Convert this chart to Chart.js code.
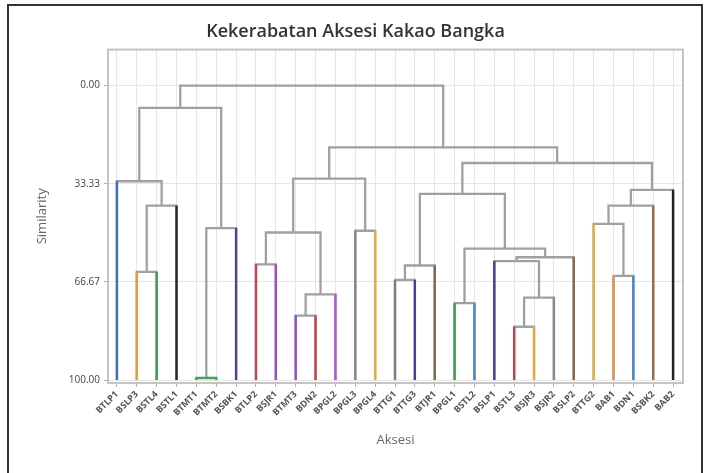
<!DOCTYPE html>
<html>
<head>
<meta charset="utf-8">
<script src="https://cdn.jsdelivr.net/npm/chart.js@4.4.1/dist/chart.umd.min.js"></script>
<style>
  html, body { margin: 0; padding: 0; background: #fff; }
  #wrap { position: relative; width: 705px; height: 473px; }
  #frame { position: absolute; left: 7px; top: 4px; width: 692px; height: 480px;
           border-left: 2px solid #333; border-top: 2px solid #333; border-right: 2px solid #333; }
</style>
</head>
<body>
<div id="wrap">
  <canvas id="chart"></canvas>
  <div id="frame"></div>
</div>
<script>
// leaves, left to right
const leafLabels = ['BTLP1', 'BSLP3', 'BSTL4', 'BSTL1', 'BTMT1', 'BTMT2', 'BSBK1', 'BTLP2', 'BSJR1', 'BTMT3',
    'BDN2', 'BPGL2', 'BPGL3', 'BPGL4', 'BTTG1', 'BTTG3', 'BTJR1', 'BPGL1', 'BSTL2', 'BSLP1',
    'BSTL3', 'BSJR3', 'BSJR2', 'BSLP2', 'BTTG2', 'BAB1', 'BDN1', 'BSBK2', 'BAB2'];
const leafColors = ['#3d72b4', '#e49b3c', '#3f9f55', '#2a2a2a', '#4aa05a', '#4aa05a', '#4545a8', '#c2434c', '#9a4fc2', '#9a4fc2',
    '#c2434c', '#b057d4', '#8a8a8a', '#e3ad3e', '#808080', '#43439e', '#7d6a58', '#3f9f55', '#4a86cc', '#43439e',
    '#c2434c', '#e3ad3e', '#8a8a8a', '#8b654a', '#e1b448', '#e4954a', '#4a86cc', '#9a6e4a', '#222222'];
// merges: [left node, right node, similarity]; node >= 29 means merge (node - 29)
const merges = [
    [4, 5, 99.3], [20, 21, 81.9], [9, 10, 78.1], [17, 18, 73.9], [30, 22, 72.0],
    [31, 11, 70.9], [14, 15, 66.0], [25, 26, 64.6], [1, 2, 63.3], [35, 16, 61.1],
    [7, 8, 60.7], [19, 33, 59.6], [40, 23, 58.3], [32, 41, 55.4], [39, 34, 49.9],
    [12, 13, 49.3], [29, 6, 48.4], [24, 36, 47.0], [37, 3, 40.8], [46, 27, 40.8],
    [38, 42, 36.8], [48, 28, 35.4], [0, 47, 32.5], [43, 44, 31.6], [49, 50, 26.3],
    [52, 53, 21.0], [51, 45, 7.6], [55, 54, 0.0]
];
const yTicks = [0, 33.33, 66.67, 100];

const n = leafLabels.length;
const grey = '#a0a0a0';
const nodeX = leafLabels.map((l, i) => i);
const nodeH = leafLabels.map(() => 100);
merges.forEach((m) => {
    nodeX.push((nodeX[m[0]] + nodeX[m[1]]) / 2);
    nodeH.push(m[2]);
});

let leafSets = [];
let linkSets = [];
merges.forEach((m) => {
    const a = m[0], b = m[1], s = m[2];
    let col = grey;
    if (a < n && b < n && leafColors[a] === leafColors[b]) col = leafColors[a];
    linkSets.push({
        data: [{x: nodeX[a], y: nodeH[a]}, {x: nodeX[a], y: s}, {x: nodeX[b], y: s}, {x: nodeX[b], y: nodeH[b]}],
        borderColor: col, borderWidth: 2.3, pointRadius: 0, fill: false, tension: 0,
        borderJoinStyle: 'miter'
    });
    [a, b].forEach((c) => {
        if (c < n) {
            leafSets.push({
                data: [{x: c, y: 100}, {x: c, y: s}],
                borderColor: leafColors[c], borderWidth: 2.4, pointRadius: 0, fill: false
            });
        }
    });
});

const framePlugin = {
    id: 'frame',
    afterDraw(chart) {
        const a = chart.chartArea, c = chart.ctx;
        c.save();
        c.strokeStyle = '#c4c4c4';
        c.lineWidth = 2;
        c.strokeRect(a.left, a.top, a.right - a.left, a.bottom - a.top);
        c.restore();
    }
};

const ctx = document.getElementById('chart');
new Chart(ctx, {
    type: 'line',
    data: { datasets: leafSets.concat(linkSets) },
    plugins: [framePlugin],
    options: {
        responsive: true,
        maintainAspectRatio: false,
        animation: false,
        layout: { padding: { top: 15, left: 28, right: 22, bottom: 20 } },
        plugins: {
            legend: { display: false },
            tooltip: { enabled: false },
            title: {
                display: true,
                text: 'Kekerabatan Aksesi Kakao Bangka',
                color: '#333',
                font: { family: 'Open Sans', size: 18, weight: '600' },
                padding: { top: 6, bottom: 7 }
            }
        },
        scales: {
            x: {
                type: 'linear',
                min: -0.45,
                max: 28.5,
                afterBuildTicks: (s) => { s.ticks = leafLabels.map((l, i) => ({value: i})); },
                afterFit: (s) => { s.height = 70; },
                ticks: {
                    autoSkip: false,
                    minRotation: 45,
                    maxRotation: 45,
                    padding: 2,
                    color: '#555',
                    font: { family: 'Open Sans', size: 9, weight: '700' },
                    callback: (v) => leafLabels[v]
                },
                grid: { color: '#e6e6e6', lineWidth: 1, tickLength: 4, tickColor: '#b0b0b0' },
                border: { display: false },
                title: {
                    display: true, text: 'Aksesi', color: '#666',
                    font: { family: 'Open Sans', size: 13 },
                    padding: { top: 0, bottom: 5 }
                }
            },
            y: {
                type: 'linear',
                reverse: true,
                min: -12.2,
                max: 101,
                afterBuildTicks: (s) => { s.ticks = yTicks.map((v) => ({value: v})); },
                afterFit: (s) => { s.width = 80; },
                ticks: {
                    color: '#444',
                    padding: 4,
                    font: { family: 'Open Sans', size: 10 },
                    callback: (v) => v.toFixed(2)
                },
                grid: { color: '#e6e6e6', lineWidth: 1, tickLength: 4, tickColor: '#b0b0b0' },
                border: { display: false },
                title: {
                    display: true, text: 'Similarity', color: '#666',
                    font: { family: 'Open Sans', size: 13 },
                    padding: { top: 6, bottom: 0 }
                }
            }
        }
    }
});
</script>
</body>
</html>
